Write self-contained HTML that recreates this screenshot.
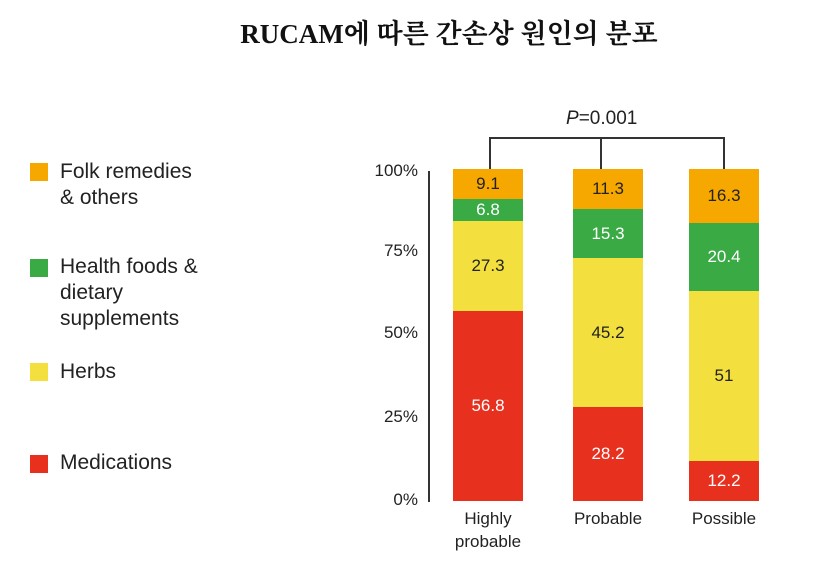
<!DOCTYPE html>
<html><head><meta charset="utf-8"><style>
body{margin:0;background:#fff;width:828px;height:574px;overflow:hidden;position:relative;font-family:"Liberation Sans",Arial,sans-serif}
.t{position:absolute;white-space:nowrap}
.sq{position:absolute;left:30px;width:18px;height:18px}
.leg{position:absolute;left:60px;font-size:21px;color:#222;line-height:26px}
.yl{position:absolute;right:410px;font-size:17px;color:#222}
.seg{position:absolute;display:flex;align-items:center;justify-content:center;font-size:17px}
.xl{position:absolute;font-size:17px;color:#222;text-align:center;width:110px;line-height:23px}
</style></head><body>
<div class="t" style="left:0;width:898px;text-align:center;top:12px;font-family:'Liberation Serif','Noto Serif CJK SC',serif;font-weight:bold;font-size:27px;color:#111">RUCAM에 따른 간손상 원인의 분포</div>

<div class="sq" style="top:163px;background:#f7a800"></div>
<div class="leg" style="top:159px">Folk remedies<br>&amp; others</div>
<div class="sq" style="top:259px;background:#3aaa45"></div>
<div class="leg" style="top:254px">Health foods &amp;<br>dietary<br>supplements</div>
<div class="sq" style="top:363px;background:#f3e03e"></div>
<div class="leg" style="top:359px">Herbs</div>
<div class="sq" style="top:455px;background:#e8301f"></div>
<div class="leg" style="top:450px">Medications</div>

<div class="yl" style="top:161px">100%</div>
<div class="yl" style="top:241px">75%</div>
<div class="yl" style="top:323px">50%</div>
<div class="yl" style="top:407px">25%</div>
<div class="yl" style="top:490px">0%</div>
<div style="position:absolute;left:428px;top:171px;width:2px;height:331px;background:#333"></div>

<div style="position:absolute;left:489px;top:137px;width:236px;height:2px;background:#333"></div>
<div style="position:absolute;left:489px;top:137px;width:2px;height:32px;background:#333"></div>
<div style="position:absolute;left:600px;top:137px;width:2px;height:32px;background:#333"></div>
<div style="position:absolute;left:723px;top:137px;width:2px;height:32px;background:#333"></div>
<div class="t" style="left:566px;top:108px;font-size:19px;color:#222"><i>P</i>=0.001</div>

<div class="seg" style="left:453px;width:70px;top:169px;height:30px;background:#f7a800;color:#222">9.1</div>
<div class="seg" style="left:453px;width:70px;top:199px;height:22px;background:#3aaa45;color:#fff">6.8</div>
<div class="seg" style="left:453px;width:70px;top:221px;height:90px;background:#f3e03e;color:#222">27.3</div>
<div class="seg" style="left:453px;width:70px;top:311px;height:190px;background:#e8301f;color:#fff">56.8</div>

<div class="seg" style="left:573px;width:70px;top:169px;height:40px;background:#f7a800;color:#222">11.3</div>
<div class="seg" style="left:573px;width:70px;top:209px;height:49px;background:#3aaa45;color:#fff">15.3</div>
<div class="seg" style="left:573px;width:70px;top:258px;height:149px;background:#f3e03e;color:#222">45.2</div>
<div class="seg" style="left:573px;width:70px;top:407px;height:94px;background:#e8301f;color:#fff">28.2</div>

<div class="seg" style="left:689px;width:70px;top:169px;height:54px;background:#f7a800;color:#222">16.3</div>
<div class="seg" style="left:689px;width:70px;top:223px;height:68px;background:#3aaa45;color:#fff">20.4</div>
<div class="seg" style="left:689px;width:70px;top:291px;height:170px;background:#f3e03e;color:#222">51</div>
<div class="seg" style="left:689px;width:70px;top:461px;height:40px;background:#e8301f;color:#fff">12.2</div>

<div class="xl" style="left:433px;top:507px">Highly<br>probable</div>
<div class="xl" style="left:553px;top:507px">Probable</div>
<div class="xl" style="left:669px;top:507px">Possible</div>
</body></html>
